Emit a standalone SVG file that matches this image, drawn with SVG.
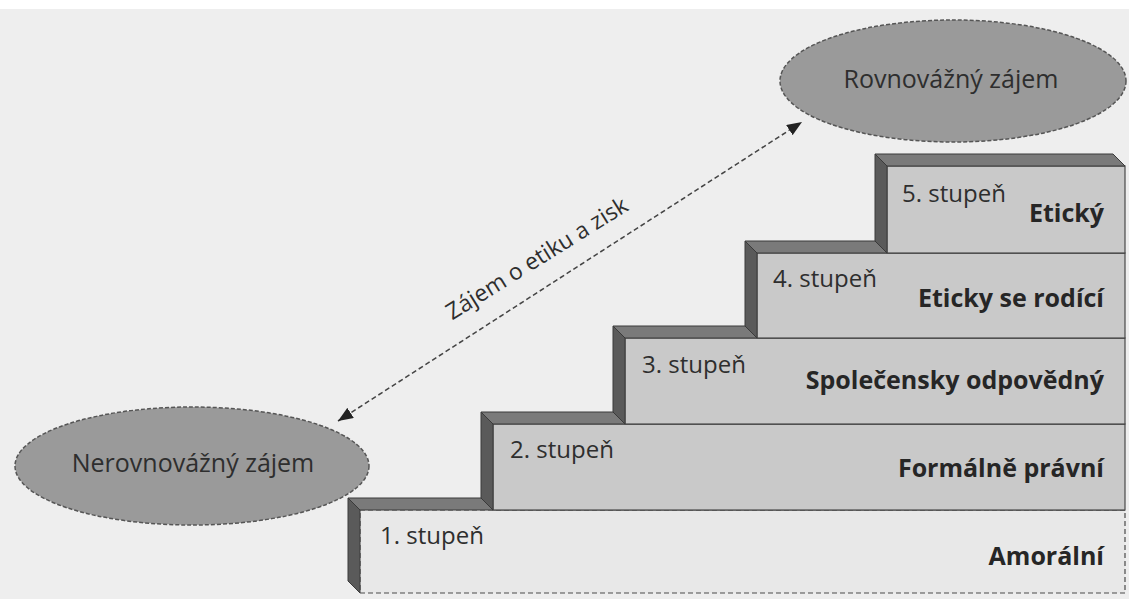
<svg xmlns="http://www.w3.org/2000/svg" width="1129" height="599" viewBox="0 0 1129 599">
<defs>
<style>
.bg{fill:#eeeeee}
.ell{fill:#9a9a9a;stroke:#555;stroke-width:1.5;stroke-dasharray:4 2}
.elab{font-family:"Open Sans",sans-serif;font-size:25px;fill:#2e2e2e;text-anchor:middle}
.face{fill:#c9c9c9;stroke:#4a4a4a;stroke-width:1.2}
.face1{fill:#e8e8e8;stroke:#4a4a4a;stroke-width:1.2}
.top{fill:#7a7a7a;stroke:#3a3a3a;stroke-width:1}
.side{fill:#5a5a5a;stroke:#3a3a3a;stroke-width:1}
.num{font-family:"Open Sans",sans-serif;font-size:24px;fill:#2e2e2e}
.lvl{font-family:"Open Sans",sans-serif;font-size:25px;font-weight:bold;fill:#262626;text-anchor:end}
.conn{stroke:#444;stroke-width:1.5;stroke-dasharray:5 3;fill:none}
.clab{font-family:"Open Sans",sans-serif;font-size:23px;fill:#2e2e2e;text-anchor:middle}
</style>
<marker id="ah" viewBox="0 0 10 10" refX="10" refY="5" markerWidth="15" markerHeight="12" orient="auto-start-reverse" markerUnits="userSpaceOnUse" preserveAspectRatio="none">
<path d="M0,0 L10,5 L0,10 z" fill="#222"/>
</marker>
</defs>
<rect class="bg" x="0" y="0" width="1129" height="599"/>
<rect x="0" y="0" width="1129" height="9" fill="#ffffff"/>

<g id="step1">
<rect class="face1" x="360" y="510" width="765" height="83" stroke-dasharray="5 3"/>
<polygon class="top" points="348,498 1113,498 1125,510 360,510"/>
<polygon class="side" points="348,498 360,510 360,593 348,581"/>
<text class="num" x="380" y="544">1. stupeň</text>
<text class="lvl" x="1104" y="565">Amorální</text>
</g>
<g id="step2">
<rect class="face" x="493" y="424" width="632" height="86"/>
<polygon class="top" points="481,412 1113,412 1125,424 493,424"/>
<polygon class="side" points="481,412 493,424 493,510 481,498"/>
<text class="num" x="510" y="458">2. stupeň</text>
<text class="lvl" x="1104" y="477">Formálně právní</text>
</g>
<g id="step3">
<rect class="face" x="625" y="338" width="500" height="86"/>
<polygon class="top" points="613,326 1113,326 1125,338 625,338"/>
<polygon class="side" points="613,326 625,338 625,424 613,412"/>
<text class="num" x="642" y="373">3. stupeň</text>
<text class="lvl" x="1104" y="389">Společensky odpovědný</text>
</g>
<g id="step4">
<rect class="face" x="757" y="253" width="368" height="85"/>
<polygon class="top" points="745,241 1113,241 1125,253 757,253"/>
<polygon class="side" points="745,241 757,253 757,338 745,326"/>
<text class="num" x="773" y="287">4. stupeň</text>
<text class="lvl" x="1104" y="307">Eticky se rodící</text>
</g>
<g id="step5">
<rect class="face" x="887" y="166" width="238" height="87"/>
<polygon class="top" points="875,154 1113,154 1125,166 887,166"/>
<polygon class="side" points="875,154 887,166 887,253 875,241"/>
<text class="num" x="902" y="202">5. stupeň</text>
<text class="lvl" x="1104" y="222">Etický</text>
</g>

<g id="nerovnovazny">
<ellipse class="ell" cx="192" cy="466" rx="177" ry="59"/>
<text class="elab" x="193" y="472">Nerovnovážný zájem</text>
</g>
<g id="rovnovazny">
<ellipse class="ell" cx="953" cy="81" rx="173" ry="61"/>
<text class="elab" x="951" y="88">Rovnovážný zájem</text>
</g>

<g id="connectors">
<line class="conn" x1="338" y1="421" x2="802" y2="122" marker-start="url(#ah)" marker-end="url(#ah)"/>
<text class="clab" x="541" y="265" transform="rotate(-32 541 265)">Zájem o etiku a zisk</text>
</g>
</svg>
